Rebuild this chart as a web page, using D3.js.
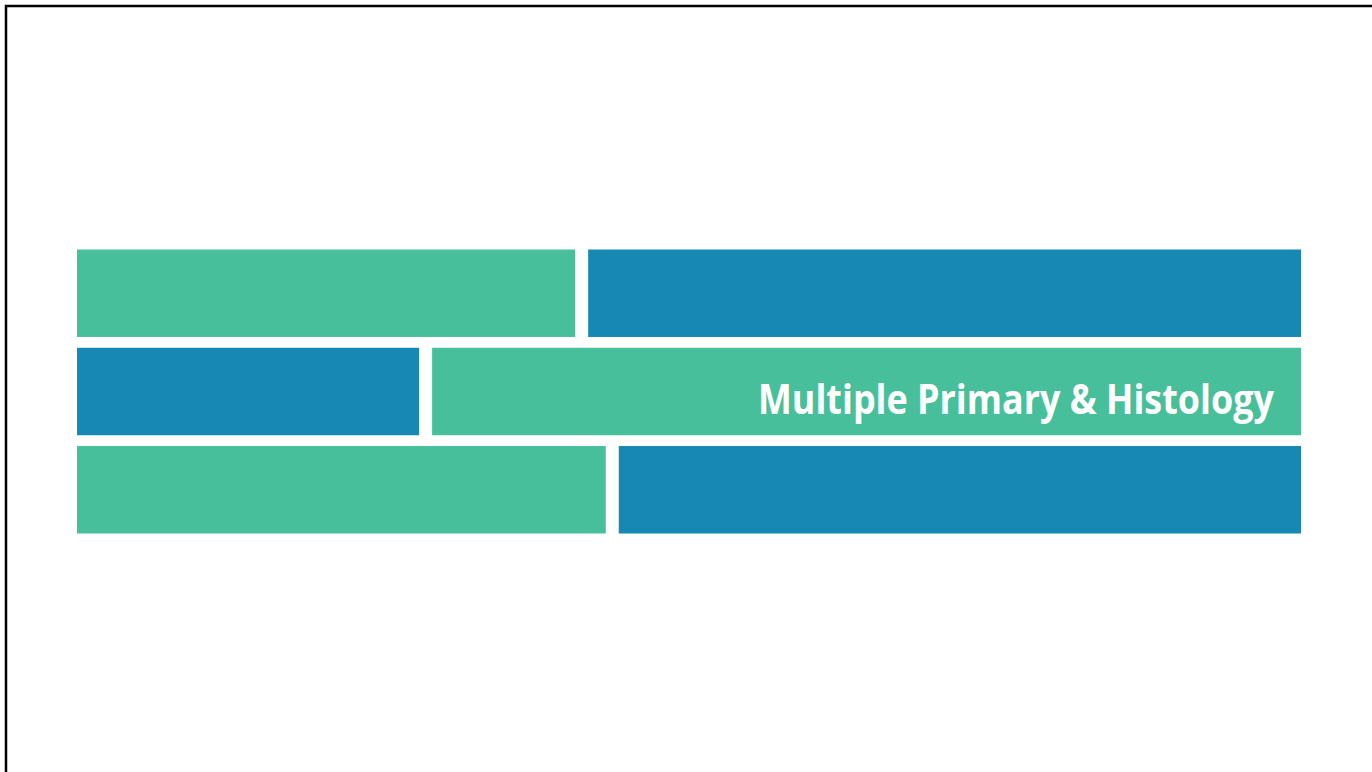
<!DOCTYPE html>
<html>
<head>
<meta charset="utf-8">
<script src="https://cdn.jsdelivr.net/npm/d3@7"></script>
<style>
  body { margin: 0; background: #fff; }
  svg { display: block; }
</style>
</head>
<body>
<div id="chart"></div>
<script>
// rows of the title block, each split in two coloured pieces
var rows = ["r1", "r2", "r3"];
// where the first piece of each row ends (percent of full width)
var splitAt = [40.7, 27.95, 43.2];
var firstColor = ["green", "blue", "green"];
var title = "Multiple Primary & Histology";
var titleRow = "r2";

var width = 1372, height = 772;
var colors = { green: "#48bf9b", blue: "#1688b3" };
var gap = 13;

var svg = d3.select("#chart").append("svg")
    .attr("width", width)
    .attr("height", height);

// slide frame (top and left edges only show)
svg.append("path")
    .attr("d", "M6,772 L6,6 L1372,6")
    .attr("fill", "none")
    .attr("stroke", "#000")
    .attr("stroke-width", 2.5);

var x = d3.scaleLinear().domain([0, 100]).range([77, 1301]);
var y = d3.scaleBand().domain(rows).range([249.5, 533.5]).paddingInner(0.11);

// build pieces from the rows
var pieces = [];
rows.forEach(function(r, i) {
    var other = firstColor[i] == "green" ? "blue" : "green";
    pieces.push({ row: r, x0: 0, x1: splitAt[i], color: firstColor[i], first: true });
    pieces.push({ row: r, x0: splitAt[i], x1: 100, color: other, first: false });
});

svg.selectAll(".piece")
    .data(pieces)
    .enter().append("rect")
    .attr("class", "piece")
    .attr("x", function(d) { return d.first ? x(d.x0) : x(d.x0) + gap; })
    .attr("width", function(d) { return d.first ? x(d.x1) - x(d.x0) : x(d.x1) - x(d.x0) - gap; })
    .attr("y", function(d) { return y(d.row); })
    .attr("height", y.bandwidth())
    .attr("fill", function(d) { return colors[d.color]; });

// title text, squeezed to the width it has in the slide
var t = svg.append("text")
    .attr("font-family", "'Open Sans', sans-serif")
    .attr("font-weight", "bold")
    .attr("font-size", 41)
    .attr("fill", "#fff")
    .text(title);
var w = t.node().getComputedTextLength();
var sx = 516 / w;
var right = 1274, base = y(titleRow) + 66;
t.attr("transform", "translate(" + (right - w * sx) + "," + base + ") scale(" + sx + ",1)");
</script>
</body>
</html>
